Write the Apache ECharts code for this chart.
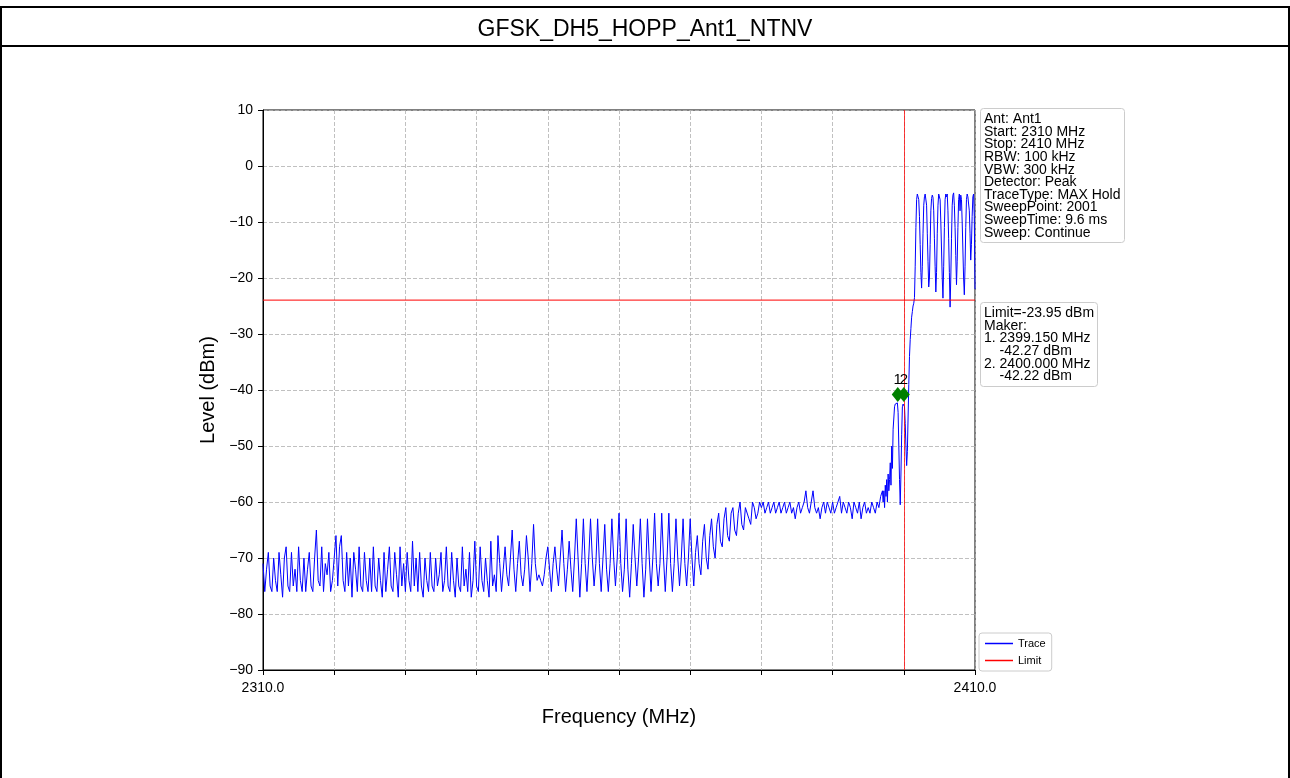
<!DOCTYPE html>
<html>
<head>
<meta charset="utf-8">
<script src="https://cdn.jsdelivr.net/npm/echarts@6/dist/echarts.min.js"></script>
<style>html,body{margin:0;padding:0;background:#fff}#c{width:1290px;height:778px}</style>
</head>
<body>
<div id="c"></div>
<script>
const chartTitle = 'GFSK_DH5_HOPP_Ant1_NTNV';
const xMin = 2310, xMax = 2410, xStep = 10;
const yMin = -90, yMax = 10, yStep = 10;
const limitLevel = -23.95;
const markerLineFreq = 2400;
// Trace part A: 2310.00 .. 2397.00 MHz, 0.25 MHz spacing
const segAStart = 2310, segAStep = 0.25;
const segA = [
 -71,-76,-72,-69, -75,-76,-70,-74, -76,-69,-73,-77, -70,-68,-75,-76, -69,-75,-72,-76,
 -68,-74,-76,-70, -76,-72,-69,-75, -76,-70,-65,-74, -75,-68,-76,-71, -73,-69,-76,-74,
 -70,-66,-75,-68, -66,-74,-76,-69, -75,-70,-77,-69, -72,-76,-68,-75, -76,-69,-74,-76,
 -70,-76,-68,-75, -76,-70,-74,-77, -69,-76,-72,-68, -75,-76,-69,-73, -77,-68,-75,-71,
 -76,-69,-74,-76, -67,-75,-70,-76, -69,-75,-77,-70, -74,-76,-69,-75, -76,-70,-75,-73,
 -69,-76,-74,-68, -75,-76,-69,-74, -77,-70,-75,-76, -68,-75,-72,-76, -69,-77,-74,-67,
 -75,-76,-68,-74, -76,-70,-74,-77, -67,-75,-73,-76, -66,-71,-76,-72, -68,-73,-75,-70,
 -65,-72,-76,-71, -67,-73,-75,-72, -66,-70,-76,-71, -64,-71,-74,-73, -74,-75,-73,-70,
 -68,-72,-76,-71, -68,-72,-75,-70, -65,-71,-76,-72, -67,-72,-76,-70, -63,-70,-77,-71,
 -63,-71,-76,-70, -63,-70,-75,-71, -63,-71,-76,-70, -64,-72,-76,-71, -63,-70,-75,-70,
 -62,-71,-76,-72, -63,-72,-77,-71, -64,-70,-75,-70, -63,-71,-77,-72, -63,-70,-76,-70,
 -62,-71,-75,-71, -62,-70,-76,-70, -62,-71,-76,-71, -63,-70,-75,-70, -63,-71,-75,-70,
 -63,-70,-75,-69, -66,-71,-73,-67, -64,-70,-72,-66, -63,-68,-70,-64, -62,-67,-68,-63,
 -61,-66,-67,-62, -61,-65,-66,-62, -60,-64,-65,-61, -61,-63,-64,-60, -61,-63,-62,-60,
 -61,-60,-62,-61, -60,-62,-61,-60, -62,-61,-60,-62, -61,-60,-62,-61, -60,-62,-61,-63,
 -61,-60,-62,-61, -60,-58,-61,-62, -60,-58,-61,-62, -61,-63,-61,-60, -62,-60,-61,-62,
 -60,-62,-61,-60, -59,-62,-60,-61, -62,-60,-61,-63, -60,-61,-62,-60, -63,-61,-60,-62,
 -61,-62,-60,-61, -62,-60,-61,-59,
 -58
];
// Trace part B: 2397.1 .. 2410.0 MHz, 0.1 MHz spacing
const segBStart = 2397.1, segBStep = 0.1;
const segB = [
 -60,-58,-61,-57,-59,-56,-60,-55,-58,-56,
 -53,-57,-50,-54,-47,-45,-43,-42.5,-42.3,-42.5,
 -42.3,-44,-50,-56,-60.5,-55,-48,-43,-42.5,-42.2,
 -43,-46,-50,-53.5,-51,-45,-39,-34,-31,-29,
 -27,-26,-25,-24.5,-23.5,-18,-11,-6,-5,-4.8,
 -6,-9,-14,-19,-21.8,-18,-12,-7,-5.5,-5,
 -4.7,-7,-12,-17,-21.6,-20,-14,-8,-5.8,-5.2,
 -5.6,-8,-13,-18,-22.5,-19,-12,-7,-5,-4.8,
 -6,-10,-15,-20,-23.6,-18,-11,-6,-5,-5.5,
 -5,-8,-13,-19,-25.2,-20,-13,-7,-5.2,-4.8,
 -7,-11,-16,-21.2,-17,-11,-6,-5,-8,-5.2,
 -6,-10,-15,-20,-23,-18,-11,-6,-5,-5.5,
 -5.2,-8,-12,-16.8,-14,-9,-5.5,-5,-9,-22
];
const markerNames = ['1', '2'];
const markerFreq = [2399.15, 2400.0];
const markerPlotLevel = [-40.8, -40.8];
const infoLines = ['Ant: Ant1','Start: 2310 MHz','Stop: 2410 MHz','RBW: 100 kHz','VBW: 300 kHz','Detector: Peak','TraceType: MAX Hold','SweepPoint: 2001','SweepTime: 9.6 ms','Sweep: Continue'];
const markerLines = ['Limit=-23.95 dBm','Maker:','1. 2399.150 MHz','    -42.27 dBm','2. 2400.000 MHz','    -42.22 dBm'];

const trace = [];
segA.forEach((v, i) => trace.push([+(segAStart + i * segAStep).toFixed(3), v]));
segB.forEach((v, i) => trace.push([+(segBStart + i * segBStep).toFixed(3), v]));

const FONT = 'Liberation Sans, Arial, Helvetica, sans-serif';
const chart = echarts.init(document.getElementById('c'), null, {renderer: 'canvas'});
chart.setOption({
  backgroundColor: '#fff',
  animation: false,
  textStyle: {fontFamily: FONT},
  title: [
    {text: chartTitle, left: 'center', top: 13, textStyle: {fontFamily: FONT, fontSize: 23, fontWeight: 'normal', color: '#000'}},
    {text: infoLines.join('\n'), left: 980, top: 109, padding: [4, 4, 3, 4], borderColor: '#cccccc', borderWidth: 1, borderRadius: 3, backgroundColor: '#fff',
     textStyle: {fontFamily: FONT, fontSize: 14, lineHeight: 12.6, fontWeight: 'normal', color: '#000'}},
    {text: markerLines.join('\n'), left: 980, top: 303, padding: [4, 4, 3, 4], borderColor: '#cccccc', borderWidth: 1, borderRadius: 3, backgroundColor: '#fff',
     textStyle: {fontFamily: FONT, fontSize: 14, lineHeight: 12.6, fontWeight: 'normal', color: '#000'}}
  ],
  legend: {
    orient: 'vertical', left: 979, top: 633, padding: [5, 6, 5, 6], itemGap: 6,
    borderColor: '#cccccc', borderWidth: 1, borderRadius: 3, backgroundColor: '#fff',
    itemWidth: 28, itemHeight: 1.5, icon: 'rect',
    textStyle: {fontFamily: FONT, fontSize: 11, color: '#000'},
    data: ['Trace', 'Limit']
  },
  graphic: [
    {type: 'line', shape: {x1: 0, y1: 7, x2: 1290, y2: 7}, style: {stroke: '#000', lineWidth: 2}},
    {type: 'line', shape: {x1: 0, y1: 46, x2: 1290, y2: 46}, style: {stroke: '#000', lineWidth: 2}},
    {type: 'line', shape: {x1: 1, y1: 7, x2: 1, y2: 778}, style: {stroke: '#000', lineWidth: 2}},
    {type: 'line', shape: {x1: 1289, y1: 7, x2: 1289, y2: 778}, style: {stroke: '#000', lineWidth: 2}}
  ],
  grid: {left: 263, top: 110, width: 712, height: 560, show: true, borderColor: '#000', borderWidth: 1, backgroundColor: 'transparent'},
  xAxis: {
    type: 'value', min: xMin, max: xMax, interval: xStep,
    name: 'Frequency (MHz)', nameLocation: 'middle', nameGap: 37,
    nameTextStyle: {fontFamily: FONT, fontSize: 20, color: '#000'},
    axisLine: {show: true, onZero: false, lineStyle: {color: '#000', width: 1}},
    axisTick: {show: true, inside: false, length: 5, lineStyle: {color: '#000'}},
    axisLabel: {color: '#000', fontSize: 14, fontFamily: FONT, margin: 11, showMinLabel: true, showMaxLabel: true,
      formatter: v => (v === xMin || v === xMax) ? v.toFixed(1) : ''},
    splitLine: {show: true, lineStyle: {color: '#b0b0b0', type: [4, 2], width: 0.8}}
  },
  yAxis: {
    type: 'value', min: yMin, max: yMax, interval: yStep,
    name: 'Level (dBm)', nameLocation: 'middle', nameGap: 44, nameRotate: 90,
    nameTextStyle: {fontFamily: FONT, fontSize: 20, color: '#000'},
    axisLine: {show: true, onZero: false, lineStyle: {color: '#000', width: 1}},
    axisTick: {show: true, inside: false, length: 5, lineStyle: {color: '#000'}},
    axisLabel: {color: '#000', fontSize: 14, fontFamily: FONT, margin: 10, formatter: v => String(v).replace('-', '\u2212')},
    splitLine: {show: true, lineStyle: {color: '#b0b0b0', type: [4, 2], width: 0.8}}
  },
  series: [
    {name: 'Trace', type: 'line', data: trace, showSymbol: false, symbol: 'none',
     lineStyle: {color: '#0000ff', width: 1}, itemStyle: {color: '#0000ff'}, z: 3,
     markLine: {silent: true, symbol: 'none', label: {show: false},
       lineStyle: {color: '#ff0000', width: 1, type: 'solid', opacity: 0.75},
       data: [{xAxis: markerLineFreq}]}},
    {name: 'Limit', type: 'line', data: [[xMin, limitLevel], [xMax, limitLevel]], showSymbol: false, symbol: 'none',
     lineStyle: {color: '#ff0000', width: 1}, itemStyle: {color: '#ff0000'}, z: 4},
    {name: 'Markers', type: 'scatter', symbol: 'diamond', symbolSize: [12, 15], z: 5,
     itemStyle: {color: '#008000', opacity: 1},
     label: {show: true, position: 'top', distance: 0, formatter: p => p.data[2], color: '#000', fontSize: 15, fontFamily: FONT},
     data: markerFreq.map((f, i) => [f, markerPlotLevel[i], markerNames[i]])}
  ]
});
</script>
</body>
</html>
